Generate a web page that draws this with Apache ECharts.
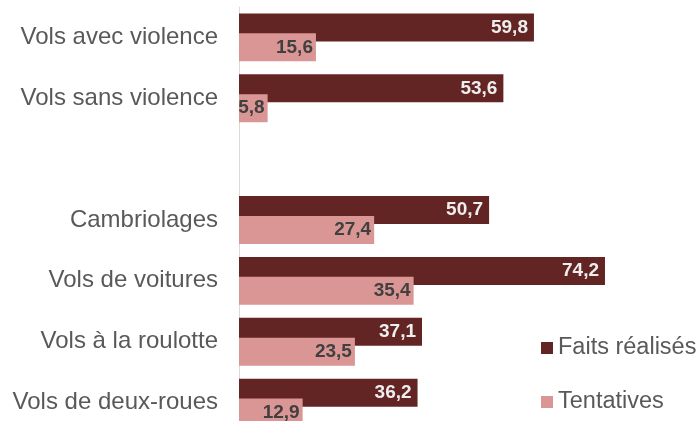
<!DOCTYPE html>
<html><head><meta charset="utf-8">
<script src="https://cdn.jsdelivr.net/npm/echarts@6/dist/echarts.min.js"></script>
<style>html,body{margin:0;padding:0;background:#fff;overflow:hidden}#c{width:696px;height:440px}</style>
</head><body><div id="c"></div>
<script>
const categories = ['Vols avec violence','Vols sans violence','','Cambriolages','Vols de voitures','Vols à la roulotte','Vols de deux-roues'];
const faitsRealises = [59.8, 53.6, '-', 50.7, 74.2, 37.1, 36.2];
const tentatives = [15.6, 5.8, '-', 27.4, 35.4, 23.5, 12.9];
const seriesNames = ['Faits réalisés','Tentatives'];

const fmt = p => (typeof p.value === 'number') ? p.value.toFixed(1).replace('.', ',') : '';
const chart = echarts.init(document.getElementById('c'), null, {renderer:'canvas'});
chart.setOption({
  animation:false,
  textStyle:{fontFamily:'"Liberation Sans", Arial, sans-serif'},
  grid:{left:239, top:7, width:394.6, height:426, containLabel:false},
  legend:{
    orient:'vertical', left:536, top:331, itemWidth:12, itemHeight:12, itemGap:30,
    icon:'rect',
    textStyle:{fontSize:23.5, color:'#595959', fontFamily:'"Liberation Sans", Arial, sans-serif'},
    data:seriesNames
  },
  xAxis:{type:'value', min:0, max:80, show:false},
  yAxis:{type:'category', data:categories, inverse:true,
    axisLine:{show:true, lineStyle:{color:'#d9d9d9', width:1}},
    axisTick:{show:false},
    axisLabel:{fontSize:24, color:'#595959', margin:21, padding:[4,0,0,0], fontFamily:'"Liberation Sans", Arial, sans-serif'}
  },
  series:[
    {name:seriesNames[0], type:'bar', data:faitsRealises, barWidth:28, barGap:'-29%',
     itemStyle:{color:'#632523'},
     label:{show:true, position:'insideRight', distance:6, formatter:fmt, fontSize:19, fontWeight:'bold', color:'#eeeeee', fontFamily:'"Liberation Sans", Arial, sans-serif'}},
    {name:seriesNames[1], type:'bar', data:tentatives, barWidth:28,
     itemStyle:{color:'#d99694'},
     label:{show:true, position:'insideRight', distance:3, formatter:fmt, fontSize:19, fontWeight:'bold', color:'#404040', fontFamily:'"Liberation Sans", Arial, sans-serif'}}
  ]
});
</script></body></html>
